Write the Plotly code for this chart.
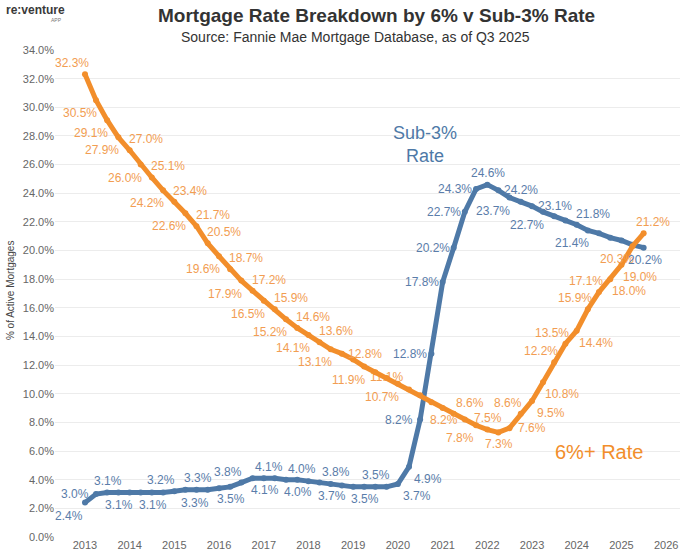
import plotly.graph_objects as go
import pandas as pd

# ---- data (quarterly, Q1 2013 .. Q3 2025) ----
quarters = pd.date_range("2013-01-01", periods=51, freq="QS")

six_plus = [32.3, 30.5, 29.1, 27.9, 27.0, 26.0, 25.1, 24.2, 23.4, 22.6,
            21.7, 20.5, 19.6, 18.7, 17.9, 17.2, 16.5, 15.9, 15.2, 14.6,
            14.1, 13.6, 13.1, 12.8, 12.4, 11.9, 11.5, 11.1, 10.7, 10.3,
            9.9, 9.4, 9.0, 8.6, 8.2, 7.8, 7.5, 7.3, 7.6, 8.6,
            9.5, 10.8, 12.2, 13.5, 14.4, 15.9, 17.1, 18.0, 19.0, 20.3, 21.2]

sub_three = [2.4, 3.0, 3.1, 3.1, 3.1, 3.1, 3.1, 3.1, 3.2, 3.3,
             3.3, 3.3, 3.4, 3.5, 3.8, 4.1, 4.1, 4.1, 4.0, 4.0,
             3.9, 3.8, 3.7, 3.6, 3.5, 3.5, 3.5, 3.5, 3.7, 4.9,
             8.2, 12.8, 17.8, 20.2, 22.7, 24.3, 24.6, 24.2, 23.7, 23.4,
             23.1, 22.7, 22.4, 22.1, 21.8, 21.4, 21.2, 20.9, 20.7, 20.4, 20.2]

year_ticks = [str(y) for y in range(2013, 2027)]

# ---- label placement (style) ; None = unlabeled point ----
six_pos = ["TL", "BL", "BL", "BL", "TR",
           "BL", "TR", "BL", "TR", "BL",
           "TR", "TR", "BL", "TR", "BL",
           "TR", "BL", "TR", "BL", "TR",
           "BL", "TR", "BL", "MR", None,
           "BL", None, "MC", "BL", None,
           None, None, None, "TR", "ML",
           "BL", "TC", "BC", "MR", "TL",
           "BR", "BR", "TL", "TL", "BR",
           "TL", "TL", "BR", "BR", "BL", "TN"]

sub_pos = ["BL", "ML", "TC", "BC", None,
           None, "BC", None, "TL", "BN",
           "TC", None, None, "BC", "TL",
           "TR", "BC", None, "TR", "BC",
           None, "TR", "BC", None, None,
           "BC", "TC", None, "BR", "BR",
           "ML", "ML", "ML", "ML", "ML",
           "ML", "TC", "MR", "BL", None,
           "MR", "BL", None, None, "TR",
           "BL", None, None, None, None, "BC"]

# label offsets from the point, in pixels (dx right, dy down)
OFFSETS = {"TL": (-13, -11), "TR": (16, -11), "TN": (9, -11),
           "BL": (-16, 13), "BR": (19, 12), "BN": (10, 13),
           "ML": (-21, 0), "MR": (23, 0),
           "TC": (1, -12), "BC": (1, 12), "MC": (0, 0)}

ORANGE = "#F28E2B"
BLUE = "#4E79A7"
ORANGE_TXT = "#F29D52"
BLUE_TXT = "#5A7DAA"
FONT = "Arial, Liberation Sans, sans-serif"

fig = go.Figure()

annotations = []
for vals, pos, col in [(six_plus, six_pos, ORANGE_TXT), (sub_three, sub_pos, BLUE_TXT)]:
    # labels that sit right on the line go underneath it, as in the reference
    under = ["%.1f%%" % v if p == "MC" else "" for v, p in zip(vals, pos)]
    fig.add_trace(go.Scatter(x=quarters, y=vals, mode="text", text=under,
                             textposition="middle center",
                             textfont=dict(color=col, size=12, family=FONT),
                             hoverinfo="skip", showlegend=False))
    for q, v, p in zip(quarters, vals, pos):
        if p is None or p == "MC":
            continue
        dx, dy = OFFSETS[p]
        annotations.append(dict(x=q, y=v, xref="x", yref="y", text="%.1f%%" % v,
                                showarrow=False, xanchor="center", yanchor="middle",
                                xshift=dx, yshift=-dy,
                                font=dict(color=col, size=12, family=FONT)))

fig.add_trace(go.Scatter(x=quarters, y=sub_three, mode="lines+markers", name="Sub-3% Rate",
                         line=dict(color=BLUE, width=5), marker=dict(size=6, color=BLUE),
                         showlegend=False))
fig.add_trace(go.Scatter(x=quarters, y=six_plus, mode="lines+markers", name="6%+ Rate",
                         line=dict(color=ORANGE, width=5), marker=dict(size=6, color=ORANGE),
                         showlegend=False))

annotations += [
    dict(text="<b>Mortgage Rate Breakdown by 6% v Sub-3% Rate</b>", xref="paper", yref="paper",
         x=0.514, y=1.07, showarrow=False, xanchor="center", yanchor="middle",
         font=dict(size=19, color="#333", family=FONT)),
    dict(text="Source: Fannie Mae Mortgage Database, as of Q3 2025", xref="paper", yref="paper",
         x=0.48, y=1.027, showarrow=False, xanchor="center", yanchor="middle",
         font=dict(size=14, color="#333", family=FONT)),
    dict(text="<b>re:venture</b>", xref="paper", yref="paper",
         x=-0.032, y=1.082, showarrow=False, xanchor="center", yanchor="middle",
         font=dict(size=12, color="#3a3a3a", family=FONT)),
    dict(text="APP", xref="paper", yref="paper",
         x=0.002, y=1.062, showarrow=False, xanchor="center", yanchor="middle",
         font=dict(size=5, color="#777", family=FONT)),
    dict(text="% of Active Mortgages", xref="paper", yref="paper",
         x=-0.072, y=0.507, showarrow=False, textangle=-90,
         xanchor="center", yanchor="middle",
         font=dict(size=10, color="#444", family=FONT)),
    dict(text="Sub-3%<br>Rate", xref="paper", yref="paper",
         x=0.592, y=0.805, showarrow=False, xanchor="center", yanchor="middle",
         font=dict(size=18, color=BLUE, family=FONT)),
    dict(text="6%+ Rate", xref="paper", yref="paper",
         x=0.870, y=0.175, showarrow=False, xanchor="center", yanchor="middle",
         font=dict(size=20, color=ORANGE, family=FONT)),
]

fig.update_layout(
    width=680, height=558,
    margin=dict(l=55, r=0, t=50, b=21),
    paper_bgcolor="white", plot_bgcolor="white",
    font=dict(family=FONT, color="#555"),
    xaxis=dict(type="date", range=["2012-05-01", "2026-04-24"],
               tickvals=[f"{y}-01-01" for y in year_ticks], ticktext=year_ticks,
               showgrid=False, zeroline=False, showline=False,
               tickfont=dict(size=11, color="#666")),
    yaxis=dict(range=[0, 34], dtick=2, tickformat=".1f", ticksuffix="%",
               showgrid=True, gridcolor="#ECECEC", gridwidth=1,
               zeroline=False, showline=False,
               tickfont=dict(size=11, color="#666")),
    annotations=annotations,
)

# remove the page's default 8px body margin so the 680x558 figure fills the window
fig.write_html("out.html", config={"displayModeBar": False},
               post_script="document.body.style.margin='0';document.body.style.overflow='hidden';")
